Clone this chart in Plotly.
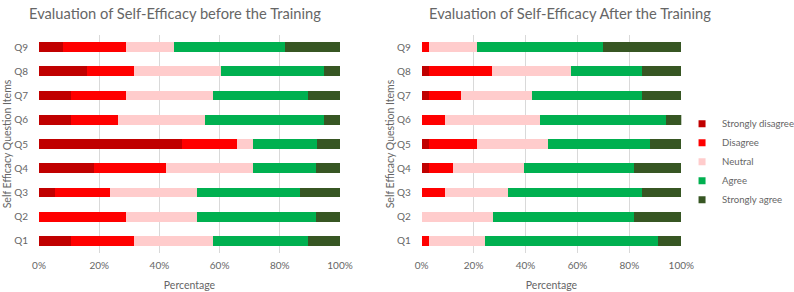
import plotly.graph_objects as go

questions = ["Q1", "Q2", "Q3", "Q4", "Q5", "Q6", "Q7", "Q8", "Q9"]
categories = ["Strongly disagree", "Disagree", "Neutral", "Agree", "Strongly agree"]
colors = ["#C00000", "#FF0000", "#FFCCCC", "#00B050", "#375623"]

# Percentages before training (per question Q1..Q9)
before_strongly_disagree = [10.5, 0.0, 5.3, 18.4, 47.4, 10.5, 10.5, 15.8, 7.9]
before_disagree = [21.1, 28.9, 18.4, 23.7, 18.4, 15.8, 18.4, 15.8, 21.1]
before_neutral = [26.3, 23.7, 28.9, 28.9, 5.3, 28.9, 28.9, 28.9, 15.8]
before_agree = [31.6, 39.5, 34.2, 21.1, 21.1, 39.5, 31.6, 34.2, 36.8]
before_strongly_agree = [10.5, 7.9, 13.2, 7.9, 7.9, 5.3, 10.5, 5.3, 18.4]

# Percentages after training
after_strongly_disagree = [0.0, 0.0, 0.0, 3.0, 3.0, 0.0, 3.0, 3.0, 0.0]
after_disagree = [3.0, 0.0, 9.1, 9.1, 18.2, 9.1, 12.1, 24.2, 3.0]
after_neutral = [21.2, 27.3, 24.2, 27.3, 27.3, 36.4, 27.3, 30.3, 18.2]
after_agree = [66.7, 54.5, 51.5, 42.4, 39.4, 48.5, 42.4, 27.3, 48.5]
after_strongly_agree = [9.1, 18.2, 15.2, 18.2, 12.1, 6.1, 15.2, 15.2, 30.3]

x_ticks = [0, 20, 40, 60, 80, 100]
x_tick_labels = ["0%", "20%", "40%", "60%", "80%", "100%"]

before = [before_strongly_disagree, before_disagree, before_neutral, before_agree, before_strongly_agree]
after = [after_strongly_disagree, after_disagree, after_neutral, after_agree, after_strongly_agree]

FONT = "Lato"
TXT = "#666666"
W, H = 794, 292

fig = go.Figure()
for i, cat in enumerate(categories):
    fig.add_trace(go.Bar(y=questions, x=before[i], orientation="h", name=cat,
                         marker=dict(color=colors[i], line=dict(width=0)),
                         xaxis="x", yaxis="y", showlegend=False, legendgroup=cat))
for i, cat in enumerate(categories):
    fig.add_trace(go.Bar(y=questions, x=after[i], orientation="h", name=cat,
                         marker=dict(color=colors[i], line=dict(width=0)),
                         xaxis="x2", yaxis="y2", showlegend=False, legendgroup=cat))
# legend entries with small square swatches
for i, cat in enumerate(categories):
    fig.add_trace(go.Scatter(x=[None], y=[None], mode="markers", name=cat,
                             marker=dict(symbol="square", size=7, color=colors[i]),
                             xaxis="x2", yaxis="y2", showlegend=True, legendgroup=cat))

ydom = [(H - 253) / H, (H - 35) / H]
xcommon = dict(range=[0, 100], tickvals=x_ticks, ticktext=x_tick_labels,
               showgrid=True, gridcolor="#D9D9D9", gridwidth=1,
               zeroline=False, showline=False, ticks="", automargin=False,
               ticklabelstandoff=5,
               tickfont=dict(family=FONT, size=10, color=TXT),
               title=dict(text="Percentage", font=dict(family=FONT, size=10.5, color=TXT), standoff=11))
ycommon = dict(showgrid=False, zeroline=False, showline=False, ticks="", automargin=False,
               categoryorder="array", categoryarray=questions,
               tickfont=dict(family=FONT, size=10, color=TXT),
               ticklabelstandoff=10,
               title=dict(text="Self Efficacy Question Items", font=dict(family=FONT, size=10.5, color=TXT), standoff=0))

fig.update_layout(
    width=W, height=H,
    margin=dict(l=0, r=0, t=0, b=0, autoexpand=False),
    paper_bgcolor="white", plot_bgcolor="white",
    barmode="stack", bargap=0.6,
    xaxis=dict(domain=[39 / W, 340 / W], anchor="y", **xcommon),
    yaxis=dict(domain=ydom, anchor="x", **ycommon),
    xaxis2=dict(domain=[421.7 / W, 681.3 / W], anchor="y2", **xcommon),
    yaxis2=dict(domain=ydom, anchor="x2", **ycommon),
    legend=dict(x=0.859, y=0.626, xanchor="left", yanchor="top",
                font=dict(family=FONT, size=9.6, color=TXT),
                bgcolor="rgba(0,0,0,0)", traceorder="normal"),
    annotations=[
        dict(text="Evaluation of Self-Efficacy before the Training", x=175 / W, y=1 - 13 / H,
             xref="paper", yref="paper", showarrow=False, xanchor="center", yanchor="middle",
             font=dict(family=FONT, size=14.7, color=TXT)),
        dict(text="Evaluation of Self-Efficacy After the Training", x=570 / W, y=1 - 13 / H,
             xref="paper", yref="paper", showarrow=False, xanchor="center", yanchor="middle",
             font=dict(family=FONT, size=14.7, color=TXT)),
    ],
)

fig.write_html("out.html")
